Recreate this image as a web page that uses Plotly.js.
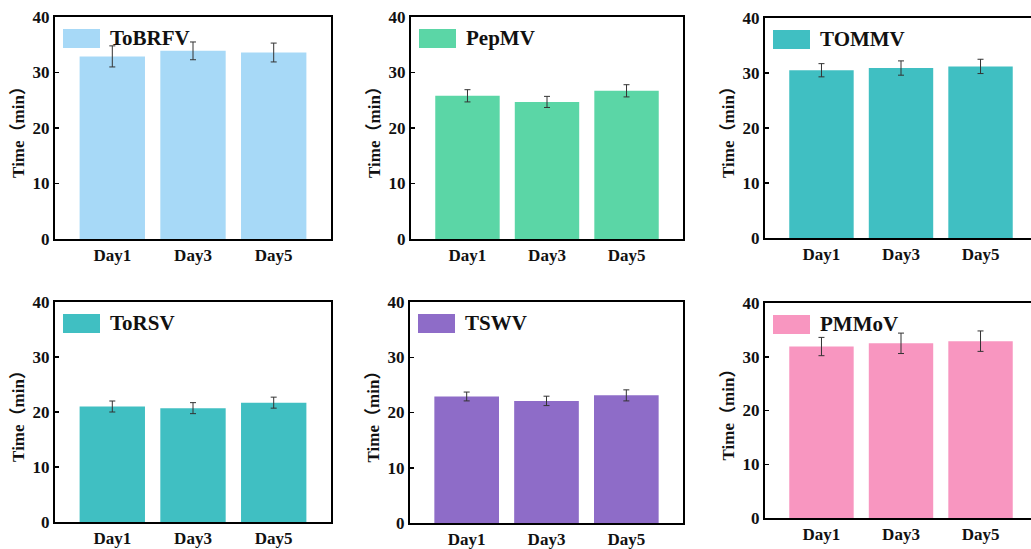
<!DOCTYPE html>
<html>
<head>
<meta charset="utf-8">
<script src="https://cdn.plot.ly/plotly-3.0.1.min.js"></script>
<style>html,body{margin:0;padding:0;background:#fff;}#chart{width:1031px;height:549px;}</style>
</head>
<body>
<div id="chart"></div>
<script>
// ---- data ----
const days = ['Day1', 'Day3', 'Day5'];
const virusNames = ['ToBRFV', 'PepMV', 'TOMMV', 'ToRSV', 'TSWV', 'PMMoV'];
const toBRFV = [32.9, 33.9, 33.6];
const toBRFVErr = [1.9, 1.6, 1.7];
const pepMV = [25.8, 24.7, 26.7];
const pepMVErr = [1.1, 1.0, 1.1];
const toMMV = [30.5, 30.9, 31.2];
const toMMVErr = [1.2, 1.3, 1.3];
const toRSV = [21.0, 20.7, 21.7];
const toRSVErr = [1.0, 1.0, 1.0];
const tSWV = [22.9, 22.1, 23.1];
const tSWVErr = [0.8, 0.85, 1.0];
const pMMoV = [31.9, 32.5, 32.9];
const pMMoVErr = [1.7, 1.9, 1.9];
const yTicks = [0, 10, 20, 30, 40];
const yTitle = 'Time（min）';

// ---- style ----
const seriesValues = [toBRFV, pepMV, toMMV, toRSV, tSWV, pMMoV];
const seriesErrors = [toBRFVErr, pepMVErr, toMMVErr, toRSVErr, tSWVErr, pMMoVErr];
const colors = ['#A7D9F7', '#5BD6A6', '#40BFC2', '#40BFC2', '#8E6CC8', '#F896C0'];
const W = 1031, H = 549;
// pixel frames [left, right, top(40), bottom(0)]
const frames = [
  [55, 331, 17, 239],
  [411, 683, 17, 239],
  [765, 1037, 18, 238],
  [55, 331, 302, 522],
  [410, 683, 302, 523],
  [765, 1037, 303, 518]
];
const FONT = '"Liberation Serif", "Times New Roman", "Noto Sans CJK SC", serif';

const traces = [];
const layout = {
  width: W, height: H,
  margin: {l: 0, r: 0, t: 0, b: 0},
  paper_bgcolor: '#fff', plot_bgcolor: '#fff',
  showlegend: false,
  bargap: 0.19,
  font: {family: FONT, color: '#111'},
  shapes: [], annotations: []
};

for (let i = 0; i < 6; i++) {
  const n = i + 1;
  const xa = 'x' + (n === 1 ? '' : n), ya = 'y' + (n === 1 ? '' : n);
  const xk = 'xaxis' + (n === 1 ? '' : n), yk = 'yaxis' + (n === 1 ? '' : n);
  const [l, r, t, b] = frames[i];
  const cropped = r > W;
  const rr = Math.min(r, W);
  const spacing = (r - l) / 3.42;
  const xmin = -0.71;
  const xmax = xmin + (rr - l) / spacing;
  traces.push({
    type: 'bar', x: days, y: seriesValues[i], name: virusNames[i],
    xaxis: xa, yaxis: ya,
    marker: {color: colors[i], line: {width: 0}},
    error_y: {type: 'data', array: seriesErrors[i], visible: true, color: '#333', thickness: 1, width: 3}
  });
  layout[xk] = {
    domain: [l / W, rr / W],
    anchor: ya,
    range: [xmin, xmax],
    showline: true, linecolor: '#000', linewidth: 2, mirror: true,
    ticks: '', showgrid: false, zeroline: false,
    tickfont: {family: FONT, size: 17, weight: 'bold', color: '#111'},
    fixedrange: true
  };
  layout[yk] = {
    domain: [(H - b) / H, (H - t) / H],
    anchor: xa,
    range: [0, 40],
    tickvals: yTicks,
    showline: true, linecolor: '#000', linewidth: 2, mirror: cropped ? false : true,
    ticks: 'inside', ticklen: 4, tickwidth: 1.5, tickcolor: '#000',
    showgrid: false, zeroline: false,
    tickfont: {family: FONT, size: 17, weight: 'bold', color: '#111'},
    title: {text: yTitle, font: {family: FONT, size: 17, weight: 'bold', color: '#111'}, standoff: 4},
    fixedrange: true
  };
  // legend swatch + label
  layout.shapes.push({
    type: 'rect', xref: xa + ' domain', yref: ya + ' domain',
    xsizemode: 'pixel', ysizemode: 'pixel', xanchor: 0, yanchor: 1,
    x0: 8, x1: 45, y0: -12, y1: -31,
    fillcolor: colors[i], line: {width: 0}
  });
  layout.annotations.push({
    xref: xa + ' domain', yref: ya + ' domain', x: 0, y: 1,
    xshift: 53, yshift: -21, xanchor: 'left', yanchor: 'middle',
    text: virusNames[i], showarrow: false,
    font: {family: FONT, size: 21, weight: 'bold', color: '#111'}
  });
}

Plotly.newPlot('chart', traces, layout, {displayModeBar: false, staticPlot: true});
</script>
</body>
</html>
